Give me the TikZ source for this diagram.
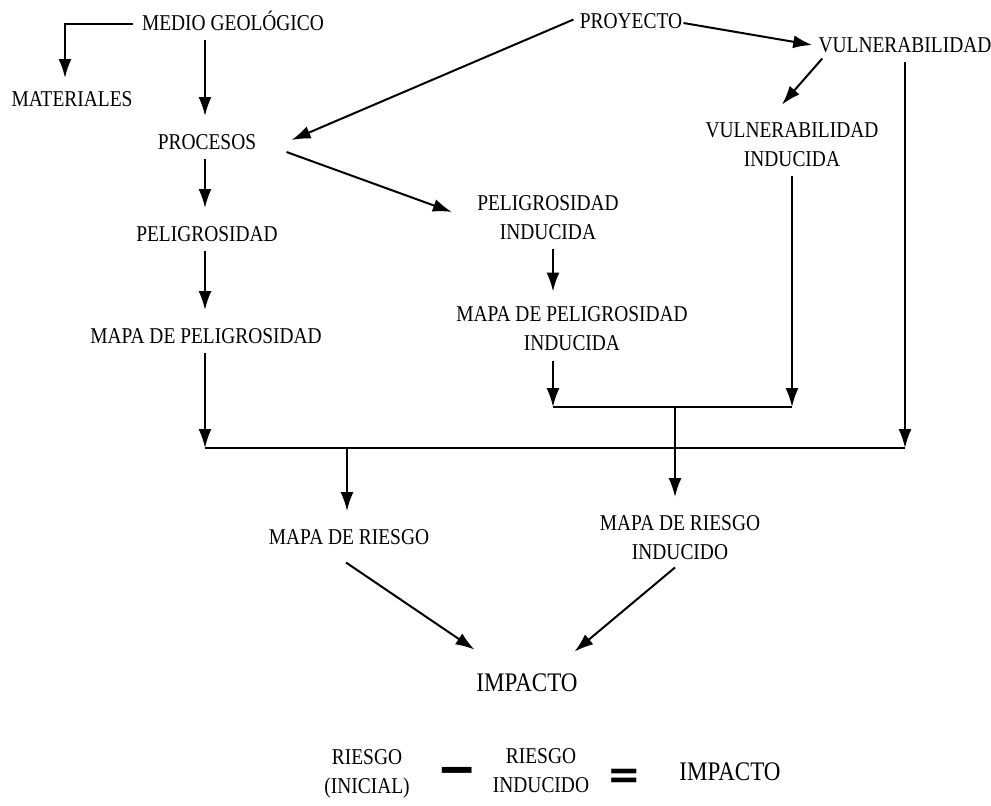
\documentclass[tikz,border=0pt]{standalone}
\usepackage{fontspec}
\setmainfont{Liberation Serif}[FakeStretch=0.86]
\newfontfamily\signos{Liberation Sans}
\newfontfamily\signoseq{DejaVu Sans}
\usetikzlibrary{calc,arrows.meta}
\tikzset{
  etiq/.style={inner xsep=3pt, inner ysep=4.5pt, align=center, font=\fontsize{11.3}{14.5}\selectfont},
  grande/.style={etiq, font=\fontsize{13.4}{16}\selectfont},
  flecha/.style={line width=1pt, -{Latex[length=9.5pt,width=6.5pt]}},
  linea/.style={line width=1pt}
}

\begin{document}
\begin{tikzpicture}[x={(0.5pt,0)}, y={(0,-0.5pt)}]
			%%%%% START %%%%%
			\useasboundingbox[fill=white] (0,0) rectangle (991,805);
			
			\node[etiq, text height=0.662em] (medio) at (233,24) {MEDIO GEOLÓGICO};
			\node[etiq] (materiales) at (72,99) {MATERIALES};
			\node[etiq] (procesos) at (207,142) {PROCESOS};
			\node[etiq] (pelig) at (207,234) {PELIGROSIDAD};
			\node[etiq] (mapapel) at (206,336) {MAPA DE PELIGROSIDAD};
			
			\node[etiq] (proyecto) at (631,21.5) {PROYECTO};
			\node[etiq] (vulner) at (905,45) {VULNERABILIDAD};
			\node[etiq] (vulnind) at (792,145) {VULNERABILIDAD\\INDUCIDA};
			\node[etiq] (pelind) at (548,217.5) {PELIGROSIDAD\\INDUCIDA};
			\node[etiq] (mapapelind) at (572,329) {MAPA DE PELIGROSIDAD\\INDUCIDA};
			
			\node[etiq] (mapariesgo) at (349,537) {MAPA DE RIESGO};
			\node[etiq] (mapariesgoind) at (680,537.5) {MAPA DE RIESGO\\INDUCIDO};
			\node[grande] (impacto) at (527,683) {IMPACTO};
			
			% ecuacion
			\node[etiq] (riesgoini) at (367,774) {RIESGO\\(INICIAL)};
			\node[inner sep=0pt, font=\signos\bfseries\fontsize{30}{30}\selectfont] (menos) at (457.5,776.5) {–};
			\node[etiq] (riesgoind) at (541,770.5) {RIESGO\\INDUCIDO};
			\node[inner sep=0pt, font=\signoseq\bfseries\fontsize{20}{20}\selectfont] (igual) at (624,778.5) {=};
			\node[grande] (impacto2) at (730,771.5) {IMPACTO};
			
			\coordinate (izq) at (205,448);
			\coordinate (der) at (905,448);
			\coordinate (ubi) at (553,407);
			\coordinate (ubd) at (792,407);
			
			% columna izquierda
			\draw[flecha] ($(medio.west)+(-3,0)$) -| ($(materiales.north)+(-7,-4)$);
			\draw[flecha, shorten >=4.5pt] (medio.south -| izq) -- (procesos.north -| izq);
			\draw[flecha, shorten >=4.5pt] (procesos.south -| izq) -- (pelig.north -| izq);
			\draw[flecha, shorten >=4.5pt] (pelig.south -| izq) -- (mapapel.north -| izq);
			\draw[flecha] (mapapel.south -| izq) -- (izq);
			\draw[linea] (izq) -- (der);
			
			% proyecto y vulnerabilidad
			\draw[flecha] ($(proyecto.west)+(0,-2)$) -- ($(procesos.east)+(29,-2)$);
			\draw[flecha] ($(proyecto.east)+(-5,1.5)$) -- ($(vulner.west)+(0,0)$);
			\draw[flecha] ($(vulner.south west)+(10,-3.5)$) -- ($(vulnind.north)+(-10,-9)$);
			\draw[flecha] (vulner.south -| der) -- (der);
			\draw[flecha] (vulnind.south -| ubd) -- (ubd);
			
			% peligrosidad inducida
			\draw[flecha] ($(procesos.east)+(24,10)$) -- ($(pelind.west)+(-19,-5.5)$);
			\draw[flecha, shorten >=3pt] (pelind.south -| ubi) -- (mapapelind.north -| ubi);
			\draw[flecha] (mapapelind.south -| ubi) -- (ubi);
			\draw[linea] (ubi) -- (ubd);
			
			% riesgo e impacto
			\draw[flecha, shorten >=4.5pt] (izq -| 347,0) -- (mapariesgo.north -| 347,0);
			\draw[flecha, shorten >=4.5pt] (ubi -| 675,0) -- (mapariesgoind.north -| 675,0);
			\draw[flecha] ($(mapariesgo.south)+(-3,8.5)$) -- ($(impacto.north west)+(4.5,-15)$);
			\draw[flecha] ($(mapariesgoind.south)+(-5,-1.5)$) -- ($(impacto.north east)+(-9.5,-13)$);
			%%%%% END %%%%%
\end{tikzpicture}
\end{document}
